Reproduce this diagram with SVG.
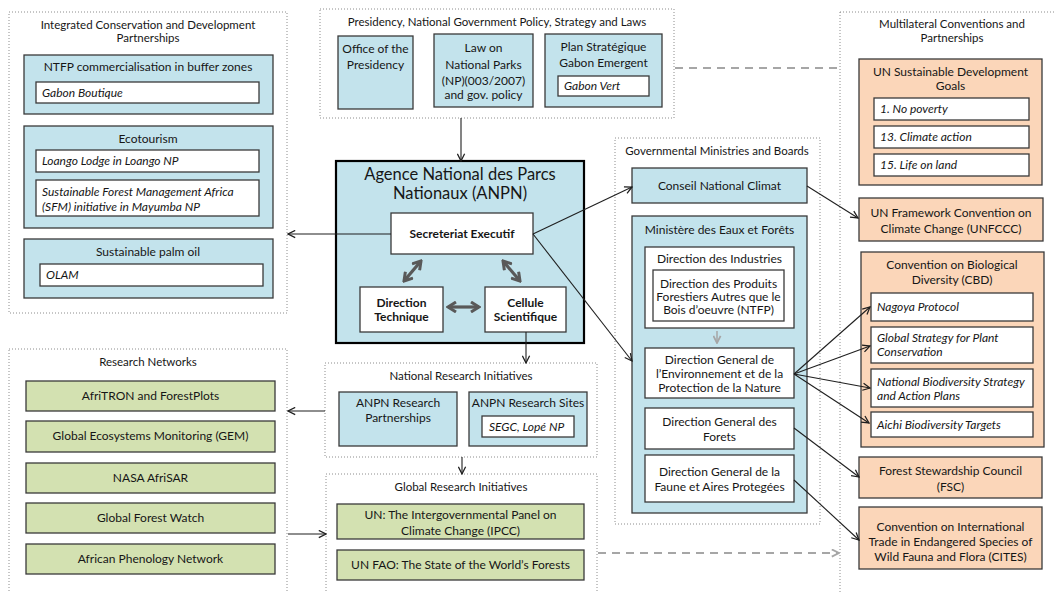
<svg xmlns="http://www.w3.org/2000/svg" width="1055" height="592" viewBox="0 0 1055 592">
<defs>
<style>
text{font-family:Lato,"Open Sans","Liberation Sans",sans-serif;font-size:12px;fill:#161616}
.c{text-anchor:middle}
.i{font-style:italic}
.b{font-weight:bold}
.t{font-size:11.5px}
.big{font-size:16.5px;text-anchor:middle}
.grp{fill:none;stroke:#8c8c8c;stroke-width:1;stroke-dasharray:1,2}
.blue{fill:#c3e3ec;stroke:#3a3a3a;stroke-width:1.3}
.org{fill:#fbd6b9;stroke:#3a3a3a;stroke-width:1.3}
.grn{fill:#d3e1b1;stroke:#3a3a3a;stroke-width:1.3}
.wht{fill:#ffffff;stroke:#3a3a3a;stroke-width:1.3}
.ln{fill:none;stroke:#1f1f1f;stroke-width:1.1;marker-end:url(#ah)}
.dash{fill:none;stroke:#a6a6a6;stroke-width:2;stroke-dasharray:8,6}
.thick{fill:none;stroke:#595959;stroke-width:3.2;marker-start:url(#th);marker-end:url(#th)}
</style>
<marker id="ah" viewBox="0 0 10 10" refX="9" refY="5" markerWidth="9" markerHeight="9" markerUnits="userSpaceOnUse" orient="auto">
<path d="M1,1 L9,5 L1,9" fill="none" stroke="#1f1f1f" stroke-width="1.4"/>
</marker>
<marker id="ag" viewBox="0 0 10 10" refX="9" refY="5" markerWidth="9" markerHeight="9" markerUnits="userSpaceOnUse" orient="auto">
<path d="M1,1 L9,5 L1,9" fill="none" stroke="#a6a6a6" stroke-width="2"/>
</marker>
<marker id="th" viewBox="0 0 12 12" refX="10" refY="6" markerWidth="12" markerHeight="12" markerUnits="userSpaceOnUse" orient="auto-start-reverse">
<path d="M2,1 L10,6 L2,11" fill="none" stroke="#595959" stroke-width="3"/>
</marker>
</defs>
<rect width="1055" height="592" fill="#ffffff"/>

<g id="icdp">
<rect class="grp" x="9" y="12" width="278" height="301"/>
<text class="c t" x="148" y="29">Integrated Conservation and Development</text>
<text class="c t" x="148" y="42">Partnerships</text>
<g id="ntfp">
<rect class="blue" x="24" y="55" width="249" height="59"/>
<text class="c" x="148" y="71">NTFP commercialisation in buffer zones</text>
<rect class="wht" x="36" y="82" width="223" height="21"/>
<text class="i" x="42" y="97">Gabon Boutique</text>
</g>
<g id="ecotourism">
<rect class="blue" x="24" y="126" width="249" height="102"/>
<text class="c" x="148" y="143">Ecotourism</text>
<rect class="wht" x="36" y="150" width="223" height="22"/>
<text class="i" x="42" y="165">Loango Lodge in Loango NP</text>
<rect class="wht" x="36" y="180" width="223" height="36"/>
<text class="i" x="42" y="196">Sustainable Forest Management Africa</text>
<text class="i" x="42" y="211">(SFM) initiative in Mayumba NP</text>
</g>
<g id="palmoil">
<rect class="blue" x="24" y="239" width="249" height="59"/>
<text class="c" x="148" y="256">Sustainable palm oil</text>
<rect class="wht" x="40" y="264" width="223" height="22"/>
<text class="i" x="46" y="279">OLAM</text>
</g>
</g>

<g id="presidency">
<rect class="grp" x="320" y="9" width="354" height="109"/>
<text class="c t" x="497" y="26">Presidency, National Government Policy, Strategy and Laws</text>
<g id="office">
<rect class="blue" x="338" y="36" width="75" height="73"/>
<text class="c" x="375.5" y="53">Office of the</text>
<text class="c" x="375.5" y="69">Presidency</text>
</g>
<g id="law">
<rect class="blue" x="434" y="34" width="99" height="73"/>
<text class="c" x="483.5" y="52">Law on</text>
<text class="c" x="483.5" y="69">National Parks</text>
<text class="c" x="483.5" y="85">(NP)(003/2007)</text>
<text class="c" x="483.5" y="99">and gov. policy</text>
</g>
<g id="plan">
<rect class="blue" x="545" y="34" width="117" height="73"/>
<text class="c" x="603.5" y="51">Plan Stratégique</text>
<text class="c" x="603.5" y="67">Gabon Emergent</text>
<rect class="wht" x="558" y="76" width="91" height="20"/>
<text class="i" x="564" y="90">Gabon Vert</text>
</g>
</g>

<g id="anpn">
<rect x="336" y="161" width="248" height="182" fill="#c3e3ec" stroke="#000" stroke-width="2.2"/>
<text class="big" x="460" y="180">Agence National des Parcs</text>
<text class="big" x="460" y="199">Nationaux (ANPN)</text>
<g id="secretariat">
<rect class="wht" x="391" y="213" width="142" height="41"/>
<text class="c b" x="462" y="238">Secreteriat Executif</text>
</g>
<g id="dirtech">
<rect class="wht" x="360" y="287" width="83" height="45"/>
<text class="c b" x="401.5" y="307">Direction</text>
<text class="c b" x="401.5" y="321">Technique</text>
</g>
<g id="cellule">
<rect class="wht" x="485" y="287" width="81" height="45"/>
<text class="c b" x="525.5" y="307">Cellule</text>
<text class="c b" x="525.5" y="321">Scientifique</text>
</g>
<line class="thick" x1="421" y1="261" x2="404" y2="281"/>
<line class="thick" x1="503" y1="261" x2="520" y2="281"/>
<line class="thick" x1="448" y1="307" x2="479" y2="307"/>
</g>

<g id="ministries">
<rect class="grp" x="615" y="138" width="205" height="386"/>
<text class="c t" x="717" y="155">Governmental Ministries and Boards</text>
<g id="conseil">
<rect class="blue" x="632" y="168" width="175" height="35"/>
<text class="c" x="719.5" y="190">Conseil National Climat</text>
</g>
<g id="ministere">
<rect class="blue" x="632" y="216" width="175" height="297"/>
<text class="c" x="719.5" y="234">Ministère des Eaux et Forêts</text>
<g id="dirind">
<rect class="wht" x="645" y="247" width="149" height="81"/>
<text class="c" x="719.5" y="263">Direction des Industries</text>
<rect class="wht" x="653" y="270" width="131" height="51"/>
<text class="c" x="718.5" y="288">Direction des Produits</text>
<text class="c" x="718.5" y="301">Forestiers Autres que le</text>
<text class="c" x="718.5" y="314">Bois d’oeuvre (NTFP)</text>
</g>
<g id="dge">
<rect class="wht" x="645" y="348" width="149" height="50"/>
<text class="c" x="719.5" y="364">Direction General de</text>
<text class="c" x="719.5" y="378">l’Environnement et de la</text>
<text class="c" x="719.5" y="392">Protection de la Nature</text>
</g>
<g id="dgf">
<rect class="wht" x="645" y="408" width="149" height="41"/>
<text class="c" x="719.5" y="426">Direction General des</text>
<text class="c" x="719.5" y="441">Forets</text>
</g>
<g id="dgfap">
<rect class="wht" x="645" y="455" width="149" height="47"/>
<text class="c" x="719.5" y="476">Direction General de la</text>
<text class="c" x="719.5" y="491">Faune et Aires Protegées</text>
</g>
</g>
</g>

<g id="multilateral">
<rect class="grp" x="840" y="12" width="230" height="600"/>
<text class="c t" x="952" y="28">Multilateral Conventions and</text>
<text class="c t" x="952" y="42">Partnerships</text>
<g id="sdg">
<rect class="org" x="859" y="59" width="183" height="126"/>
<text class="c" x="950.5" y="76">UN Sustainable Development</text>
<text class="c" x="950.5" y="90">Goals</text>
<rect class="wht" x="874" y="98" width="155" height="22"/>
<text class="i" x="880" y="113">1. No poverty</text>
<rect class="wht" x="874" y="126" width="155" height="22"/>
<text class="i" x="880" y="141">13. Climate action</text>
<rect class="wht" x="874" y="154" width="155" height="22"/>
<text class="i" x="880" y="169">15. Life on land</text>
</g>
<g id="unfccc">
<rect class="org" x="859" y="198" width="184" height="43"/>
<text class="c" x="951" y="217">UN Framework Convention on</text>
<text class="c" x="951" y="233">Climate Change (UNFCCC)</text>
</g>
<g id="cbd">
<rect class="org" x="861" y="252" width="183" height="195"/>
<text class="c" x="952" y="269">Convention on Biological</text>
<text class="c" x="952" y="284">Diversity (CBD)</text>
<rect class="wht" x="871" y="293" width="162" height="28"/>
<text class="i" x="877" y="311">Nagoya Protocol</text>
<rect class="wht" x="871" y="327" width="162" height="36"/>
<text class="i" x="877" y="342">Global Strategy for Plant</text>
<text class="i" x="877" y="356">Conservation</text>
<rect class="wht" x="871" y="369" width="162" height="38"/>
<text class="i" x="877" y="386">National Biodiversity Strategy</text>
<text class="i" x="877" y="400">and Action Plans</text>
<rect class="wht" x="871" y="412" width="162" height="25"/>
<text class="i" x="877" y="429">Aichi Biodiversity Targets</text>
</g>
<g id="fsc">
<rect class="org" x="859" y="457" width="183" height="41"/>
<text class="c" x="950.5" y="475">Forest Stewardship Council</text>
<text class="c" x="950.5" y="491">(FSC)</text>
</g>
<g id="cites">
<rect class="org" x="859" y="507" width="183" height="62"/>
<text class="c" x="950.5" y="531">Convention on International</text>
<text class="c" x="950.5" y="546">Trade in Endangered Species of</text>
<text class="c" x="950.5" y="561">Wild Fauna and Flora (CITES)</text>
</g>
</g>

<g id="researchnetworks">
<rect class="grp" x="9" y="349" width="278" height="260"/>
<text class="c t" x="148" y="366">Research Networks</text>
<g id="afritron"><rect class="grn" x="26" y="381" width="249" height="30"/><text class="c" x="150.5" y="400">AfriTRON and ForestPlots</text></g>
<g id="gem"><rect class="grn" x="26" y="421" width="249" height="31"/><text class="c" x="150.5" y="440">Global Ecosystems Monitoring (GEM)</text></g>
<g id="nasa"><rect class="grn" x="26" y="463" width="249" height="30"/><text class="c" x="150.5" y="482">NASA AfriSAR</text></g>
<g id="gfw"><rect class="grn" x="26" y="503" width="249" height="30"/><text class="c" x="150.5" y="522">Global Forest Watch</text></g>
<g id="apn"><rect class="grn" x="26" y="544" width="249" height="30"/><text class="c" x="150.5" y="563">African Phenology Network</text></g>
</g>

<g id="nationalresearch">
<rect class="grp" x="325" y="363" width="272" height="94"/>
<text class="c t" x="461" y="380">National Research Initiatives</text>
<g id="anpnpartners">
<rect class="blue" x="339" y="392" width="118" height="54"/>
<text class="c" x="398" y="407">ANPN Research</text>
<text class="c" x="398" y="422">Partnerships</text>
</g>
<g id="anpnsites">
<rect class="blue" x="469" y="392" width="118" height="54"/>
<text class="c" x="528" y="407">ANPN Research Sites</text>
<rect class="wht" x="482" y="416" width="92" height="21"/>
<text class="i" x="489" y="431">SEGC, Lopé NP</text>
</g>
</g>

<g id="globalresearch">
<rect class="grp" x="326" y="474" width="271" height="140"/>
<text class="c t" x="461" y="491">Global Research Initiatives</text>
<g id="ipcc">
<rect class="grn" x="337" y="504" width="247" height="35"/>
<text class="c" x="460.5" y="519">UN: The Intergovernmental Panel on</text>
<text class="c" x="460.5" y="535">Climate Change (IPCC)</text>
</g>
<g id="fao">
<rect class="grn" x="337" y="550" width="247" height="30"/>
<text class="c" x="460.5" y="569">UN FAO: The State of the World’s Forests</text>
</g>
</g>

<g id="connectors">
<line class="ln" x1="461" y1="118" x2="461" y2="161"/>
<line class="ln" x1="391" y1="234" x2="288" y2="234"/>
<line class="ln" x1="533" y1="234" x2="632" y2="187"/>
<line class="ln" x1="533" y1="234" x2="632" y2="361"/>
<line class="ln" x1="526" y1="332" x2="526" y2="363"/>
<line class="ln" x1="462" y1="457" x2="462" y2="474"/>
<line class="ln" x1="325" y1="411" x2="288" y2="411"/>
<line class="ln" x1="288" y1="534" x2="326" y2="534"/>
<line class="ln" x1="807" y1="186" x2="858" y2="218"/>
<line class="ln" x1="794" y1="374" x2="870" y2="307"/>
<line class="ln" x1="794" y1="374" x2="870" y2="346"/>
<line class="ln" x1="794" y1="374" x2="870" y2="388"/>
<line class="ln" x1="794" y1="374" x2="869" y2="423"/>
<line class="ln" x1="794" y1="428" x2="859" y2="477"/>
<line class="ln" x1="794" y1="480" x2="859" y2="540"/>
<line x1="717" y1="331" x2="717" y2="343" fill="none" stroke="#a6a6a6" stroke-width="1.5" marker-end="url(#ag)"/>
<line class="dash" x1="675" y1="68" x2="839" y2="68"/>
<line class="dash" x1="598" y1="553" x2="839" y2="553" marker-end="url(#ag)"/>
</g>
</svg>
